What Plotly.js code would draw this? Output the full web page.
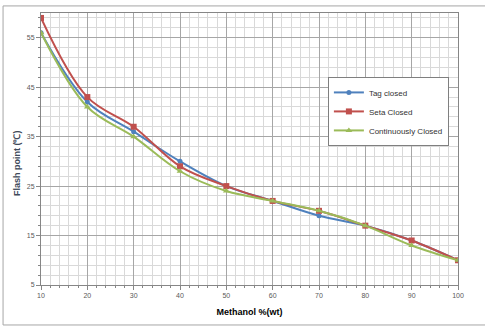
<!DOCTYPE html>
<html>
<head>
<meta charset="utf-8">
<script src="https://cdn.plot.ly/plotly-3.0.1.min.js"></script>
<style>
html,body{margin:0;padding:0;background:#fff;}
#chart{width:485px;height:326px;}
</style>
</head>
<body>
<div id="chart"></div>
<script>
const methanol = [10, 20, 30, 40, 50, 60, 70, 80, 90, 100];
const tagClosed = [56, 42, 36, 30, 25, 22, 19, 17, 14, 10];
const setaClosed = [59, 43, 37, 29, 25, 22, 20, 17, 14, 10];
const continuouslyClosed = [56, 41, 35, 28, 24, 22, 20, 17, 13, 10];
const seriesNames = ["Tag closed", "Seta Closed", "Continuously Closed"];
const xTickVals = [10, 20, 30, 40, 50, 60, 70, 80, 90, 100];
const yTickVals = [5, 15, 25, 35, 45, 55];
const xTitle = "Methanol %(wt)";
const yTitle = "Flash point (℃)";

const font = "Liberation Sans, Arial, sans-serif";

function series(name, y, color, symbol, size) {
  return {
    x: methanol, y: y, name: name, type: "scatter", mode: "lines+markers",
    line: {color: color, width: 2, shape: "spline", smoothing: 1},
    marker: {color: color, symbol: symbol, size: size}
  };
}

const data = [
  series(seriesNames[0], tagClosed, "#4F81BD", "circle", 5),
  series(seriesNames[1], setaClosed, "#C0504D", "square", 6),
  series(seriesNames[2], continuouslyClosed, "#9BBB59", "triangle-up", 6)
];

const layout = {
  width: 485, height: 326,
  margin: {l: 41, r: 27, t: 13, b: 41},
  paper_bgcolor: "#fff", plot_bgcolor: "#fff",
  font: {family: font, size: 7, color: "#595959"},
  showlegend: true,
  legend: {
    x: 0.688, y: 0.765, xanchor: "left", yanchor: "top",
    bgcolor: "#fff", bordercolor: "#7f7f7f", borderwidth: 1,
    font: {family: font, size: 8, color: "#333"},
    tracegroupgap: 0, itemwidth: 30
  },
  xaxis: {
    range: [10, 100], tickmode: "array", tickvals: xTickVals,
    showgrid: true, gridcolor: "#a6a6a6", gridwidth: 1,
    showline: true, linecolor: "#868686", linewidth: 1, mirror: true,
    ticks: "outside", ticklen: 4, tickcolor: "#868686",
    minor: {dtick: 2, showgrid: true, gridcolor: "#d9d9d9", ticks: "outside", ticklen: 2, tickcolor: "#868686"},
    zeroline: false,
    tickfont: {size: 7, color: "#595959"},
    title: {text: xTitle, font: {family: font, size: 9, color: "#000", weight: "bold"}, standoff: 10}
  },
  yaxis: {
    range: [5, 60], tickmode: "array", tickvals: yTickVals,
    showgrid: true, gridcolor: "#a6a6a6", gridwidth: 1,
    showline: true, linecolor: "#868686", linewidth: 1, mirror: true,
    ticks: "outside", ticklen: 4, tickcolor: "#868686",
    minor: {dtick: 2, tick0: 5, showgrid: true, gridcolor: "#d9d9d9", ticks: "outside", ticklen: 2, tickcolor: "#868686"},
    zeroline: false,
    tickfont: {size: 7, color: "#595959"}
  },
  annotations: [{
    text: yTitle, textangle: -90, showarrow: false,
    xref: "paper", yref: "paper",
    x: (17 - 41) / 417, y: (285 - 163) / 272, xanchor: "center", yanchor: "middle",
    font: {family: font, size: 9, color: "#3f4a5a", weight: "bold"}
  }],
  shapes: [{
    type: "rect", xref: "paper", yref: "paper",
    x0: -0.091, x1: 1.08, y0: -0.147, y1: 1.026,
    line: {color: "#a6a6a6", width: 1}, fillcolor: "rgba(0,0,0,0)", layer: "below"
  }]
};

Plotly.newPlot("chart", data, layout, {displayModeBar: false, staticPlot: true});
</script>
</body>
</html>
